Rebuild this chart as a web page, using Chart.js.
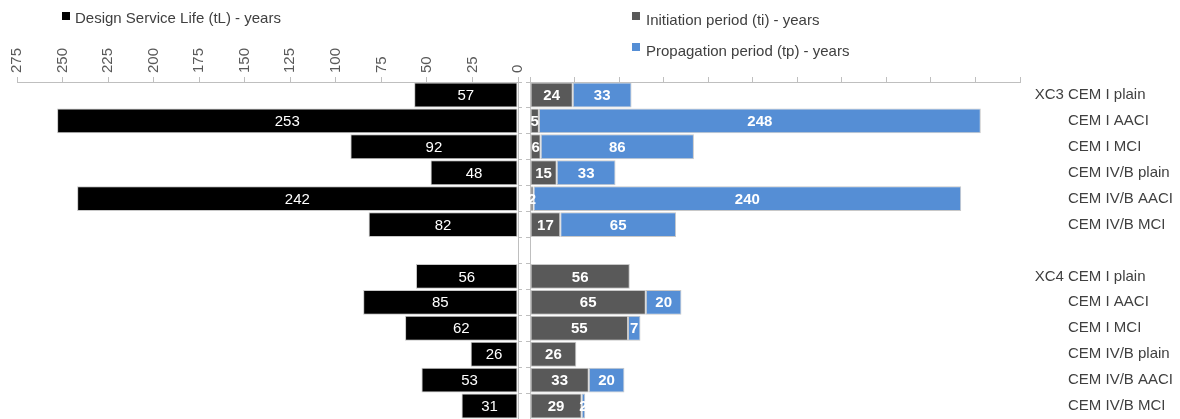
<!DOCTYPE html>
<html>
<head>
<meta charset="utf-8">
<script src="https://cdn.jsdelivr.net/npm/chart.js@4/dist/chart.umd.min.js"></script>
<style>
  body { margin: 0; background: #fff; font-family: "Liberation Sans", Arial, sans-serif; }
  #wrap { position: relative; width: 1180px; height: 419px; overflow: hidden; }
  #leftChart { position: absolute; left: 0; top: 0; }
  #rightChart { position: absolute; left: 524px; top: 0; }
  .key { position: absolute; width: 8px; height: 8px; }
  .lg { position: absolute; font-size: 15px; line-height: 18px; color: #404040; white-space: nowrap; }
</style>
</head>
<body>
<div id="wrap">
  <canvas id="leftChart" width="524" height="419"></canvas>
  <canvas id="rightChart" width="656" height="419"></canvas>
  <span class="key" style="left:62px;top:12px;background:#000"></span>
  <div class="lg" id="lgLife" style="left:75px;top:9px"></div>
  <span class="key" style="left:632px;top:12px;background:#595959"></span>
  <div class="lg" id="lgInit" style="left:646px;top:11px"></div>
  <span class="key" style="left:632px;top:43px;background:#558ed5"></span>
  <div class="lg" id="lgProp" style="left:646px;top:42px"></div>
</div>
<script>
// categories (blank row separates the two exposure classes)
const categories = ['CEM I plain', 'CEM I AACI', 'CEM I MCI', 'CEM IV/B plain', 'CEM IV/B AACI', 'CEM IV/B MCI', '',
                    'CEM I plain', 'CEM I AACI', 'CEM I MCI', 'CEM IV/B plain', 'CEM IV/B AACI', 'CEM IV/B MCI'];
const groups = ['XC3', '', '', '', '', '', '', 'XC4', '', '', '', '', ''];

const seriesNames = ['Design Service Life (tL) - years', 'Initiation period (ti) - years', 'Propagation period (tp) - years'];
const serviceLife = [57, 253, 92, 48, 242, 82, null, 56, 85, 62, 26, 53, 31];
const initiation  = [24, 5, 6, 15, 2, 17, null, 56, 65, 55, 26, 33, 29];
const propagation = [33, 248, 86, 33, 240, 65, null, 0, 20, 7, 0, 20, 2];

const xTicks = [0, 25, 50, 75, 100, 125, 150, 175, 200, 225, 250, 275];

const FONT = '"Liberation Sans", Arial, sans-serif';
const AXIS_GREY = '#bfbfbf';

document.getElementById('lgLife').textContent = seriesNames[0];
document.getElementById('lgInit').textContent = seriesNames[1];
document.getElementById('lgProp').textContent = seriesNames[2];

// white value labels in the middle of every bar
const barLabels = {
    id: 'barLabels',
    afterDatasetsDraw(chart, args, opts) {
        let ctx = chart.ctx;
        ctx.save();
        ctx.fillStyle = '#fff';
        ctx.font = opts.font;
        ctx.textAlign = 'center';
        ctx.textBaseline = 'middle';
        chart.data.datasets.forEach((ds, i) => {
            chart.getDatasetMeta(i).data.forEach((bar, j) => {
                let v = ds.data[j];
                if (v === null || v === 0) return;
                ctx.fillText(String(v), (bar.x + bar.base) / 2, bar.y + 1);
            });
        });
        ctx.restore();
    }
};

// "XC3" / "XC4" hanging in front of the first label of each group
const groupLabels = {
    id: 'groupLabels',
    afterDraw(chart) {
        let s = chart.scales.y2;
        let ctx = chart.ctx;
        ctx.save();
        ctx.font = '15px ' + FONT;
        ctx.fillStyle = '#404040';
        ctx.textAlign = 'right';
        ctx.textBaseline = 'middle';
        let x = s.left + s.options.ticks.padding - ctx.measureText(' ').width;
        groups.forEach((g, i) => {
            if (g) ctx.fillText(g, x, s.getPixelForValue(i));
        });
        ctx.restore();
    }
};

const barStyle = {
    borderColor: '#c8c8c8',
    borderWidth: 1,
    borderSkipped: false,
    barPercentage: 0.96,
    categoryPercentage: 1
};

new Chart(document.getElementById('leftChart'), {
    type: 'bar',
    data: {
        labels: categories,
        datasets: [Object.assign({
            label: seriesNames[0],
            data: serviceLife,
            backgroundColor: '#000000'
        }, barStyle)]
    },
    options: {
        indexAxis: 'y',
        responsive: false,
        animation: false,
        layout: { padding: { left: 17, right: 0, top: 0, bottom: 0 } },
        plugins: {
            legend: { display: false },
            tooltip: { enabled: false },
            barLabels: { font: '15px ' + FONT }
        },
        scales: {
            x: {
                position: 'top',
                reverse: true,
                min: 0,
                max: 275,
                afterBuildTicks: s => { s.ticks = xTicks.map(v => ({ value: v })); },
                afterFit: s => { s.height = 82; s.paddingLeft = 0; s.paddingRight = 0; },
                ticks: { minRotation: 90, maxRotation: 90, padding: 4, labelOffset: 18, color: '#595959', font: { family: FONT, size: 15 } },
                grid: { drawOnChartArea: false, tickLength: 5, color: AXIS_GREY },
                border: { color: AXIS_GREY }
            },
            y: {
                position: 'right',
                afterFit: s => { s.width = 6; },
                ticks: { display: false },
                grid: { offset: true, drawOnChartArea: false, tickLength: 4, color: AXIS_GREY },
                border: { color: AXIS_GREY }
            }
        }
    },
    plugins: [barLabels]
});

new Chart(document.getElementById('rightChart'), {
    type: 'bar',
    data: {
        labels: categories,
        datasets: [
            Object.assign({ label: seriesNames[1], data: initiation, backgroundColor: '#595959' }, barStyle),
            Object.assign({ label: seriesNames[2], data: propagation, backgroundColor: '#558ed5' }, barStyle)
        ]
    },
    options: {
        indexAxis: 'y',
        responsive: false,
        animation: false,
        layout: { padding: 0 },
        plugins: {
            legend: { display: false },
            tooltip: { enabled: false },
            barLabels: { font: 'bold 15px ' + FONT }
        },
        scales: {
            x: {
                position: 'top',
                stacked: true,
                min: 0,
                max: 275,
                afterBuildTicks: s => { s.ticks = xTicks.map(v => ({ value: v })); },
                afterFit: s => { s.height = 82; s.paddingLeft = 0; s.paddingRight = 0; },
                ticks: { display: false },
                grid: { drawOnChartArea: false, tickLength: 5, color: AXIS_GREY },
                border: { color: AXIS_GREY }
            },
            y: {
                position: 'left',
                stacked: true,
                afterFit: s => { s.width = 6; },
                ticks: { display: false },
                grid: { offset: true, drawOnChartArea: false, tickLength: 4, color: AXIS_GREY },
                border: { color: AXIS_GREY }
            },
            y2: {
                type: 'category',
                position: 'right',
                offset: true,
                afterFit: s => { s.width = 160; s.paddingTop = 0; s.paddingBottom = 0; },
                ticks: { padding: 48, color: '#404040', font: { family: FONT, size: 15 } },
                grid: { display: false, drawTicks: false },
                border: { display: false }
            }
        }
    },
    plugins: [barLabels, groupLabels]
});
</script>
</body>
</html>
